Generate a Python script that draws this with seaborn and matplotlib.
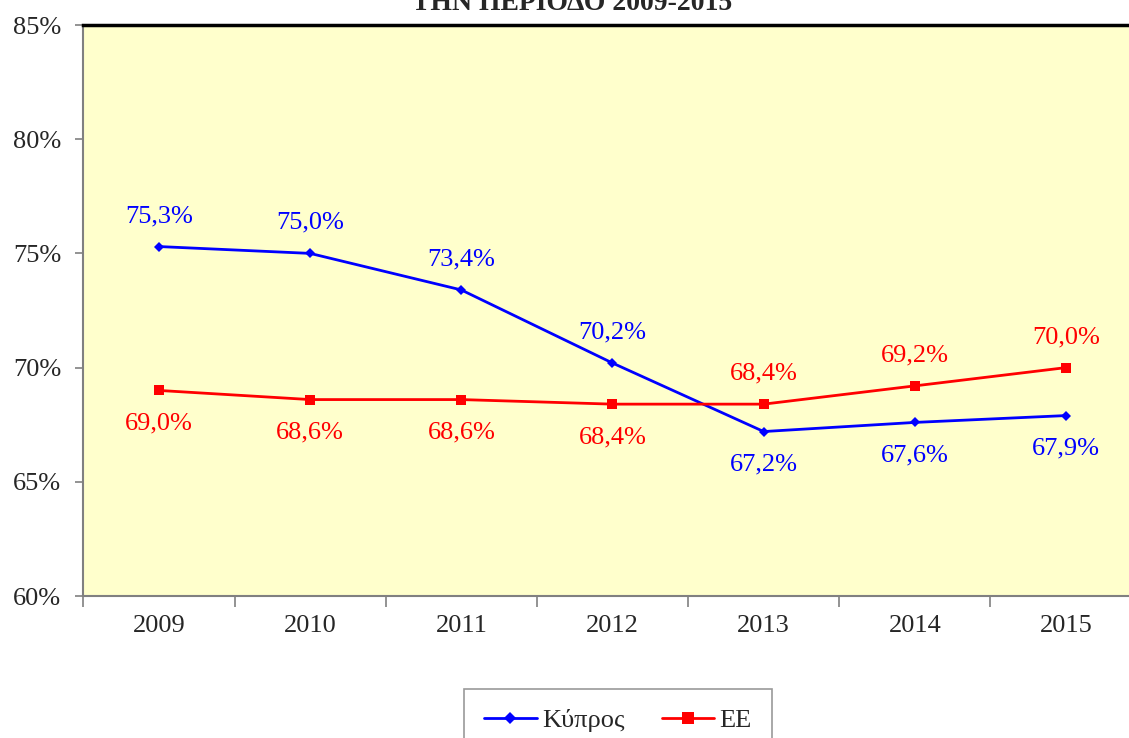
import numpy as np
import pandas as pd
import matplotlib
matplotlib.use("Agg")
import matplotlib.pyplot as plt
import seaborn as sns
from matplotlib.ticker import FixedLocator

# Chart data
years = ["2009", "2010", "2011", "2012", "2013", "2014", "2015"]
cyprus = [75.3, 75.0, 73.4, 70.2, 67.2, 67.6, 67.9]
eu = [69.0, 68.6, 68.6, 68.4, 68.4, 69.2, 70.0]
series_names = ["Κύπρος", "ΕΕ"]
title_text = "ΤΗΝ ΠΕΡΙΟΔΟ 2009-2015"
y_ticks = [60, 65, 70, 75, 80, 85]

sns.set_style("white")
plt.rcParams["font.family"] = ["Liberation Serif", "DejaVu Serif"]

df = pd.DataFrame({
    "pos": list(range(len(years))) * 2,
    "value": cyprus + eu,
    "series": [series_names[0]] * len(years) + [series_names[1]] * len(years),
})

fig = plt.figure(figsize=(11.29, 7.38), dpi=100)
ax = fig.add_axes([83.4 / 1129, 1 - 596 / 738, (1141.6 - 83.4) / 1129, (596 - 25) / 738])
ax.set_facecolor("#FFFFCC")

palette = {series_names[0]: "#0000FF", series_names[1]: "#FF0000"}
markers = {series_names[0]: "D", series_names[1]: "s"}
sns.lineplot(data=df, x="pos", y="value", hue="series", style="series",
             palette=palette, markers=markers, dashes=False, ax=ax,
             linewidth=2, legend=False, markeredgewidth=0)
# marker sizes differ per series
for line, ms in zip(ax.lines, [5, 7]):
    line.set_markersize(ms)

ax.set_xlim(-0.5, len(years) - 0.5)
ax.set_ylim(60, 85)
ax.set_xlabel("")
ax.set_ylabel("")

# ticks
ax.set_xticks(range(len(years)))
ax.set_xticklabels(years)
ax.xaxis.set_minor_locator(FixedLocator(np.arange(-0.5, len(years), 1.0)))
ax.tick_params(axis="x", which="major", bottom=True, length=0, pad=14, labelsize=19)
ax.tick_params(axis="x", which="minor", bottom=True, length=8, width=1.2,
               color="#808080", direction="out")
ax.set_yticks(y_ticks)
ax.set_yticklabels([f"{t}%" for t in y_ticks])
ax.tick_params(axis="y", left=True, length=6, width=1.2, color="#808080",
               direction="out", pad=10, labelsize=19)

for side in ["left", "bottom"]:
    ax.spines[side].set_color("#808080")
    ax.spines[side].set_linewidth(1.5)
ax.spines["right"].set_visible(False)
ax.spines["top"].set_color("black")
ax.spines["top"].set_linewidth(2.5)

# data labels
for i, v in enumerate(cyprus):
    above = v > eu[i]
    ax.annotate(f"{v:.1f}%".replace(".", ","), (i, v),
                xytext=(0, 22 if above else -24), textcoords="offset points",
                ha="center", va="center", color="#0000FF", fontsize=19)
for i, v in enumerate(eu):
    above = v > cyprus[i]
    ax.annotate(f"{v:.1f}%".replace(".", ","), (i, v),
                xytext=(0, 22 if above else -24), textcoords="offset points",
                ha="center", va="center", color="#FF0000", fontsize=19)

fig.text(572 / 1129, 1 - 10 / 738, title_text, ha="center", va="baseline",
         fontsize=20, fontweight="bold")

handles = [plt.Line2D([], [], color=palette[n], marker=markers[n], lw=2,
                      markersize=ms, markeredgewidth=0)
           for n, ms in zip(series_names, [6, 8])]
leg = fig.legend(handles, series_names, loc="upper center",
                 bbox_to_anchor=(618 / 1129, 1 - 689 / 738), ncol=2,
                 fontsize=19, frameon=True, fancybox=False, handlelength=2.0,
                 handletextpad=0.2, columnspacing=1.4, borderpad=0.75,
                 borderaxespad=0)
leg.get_frame().set_edgecolor("#808080")
leg.get_frame().set_linewidth(1.2)

fig.savefig("out.png", dpi=100)
